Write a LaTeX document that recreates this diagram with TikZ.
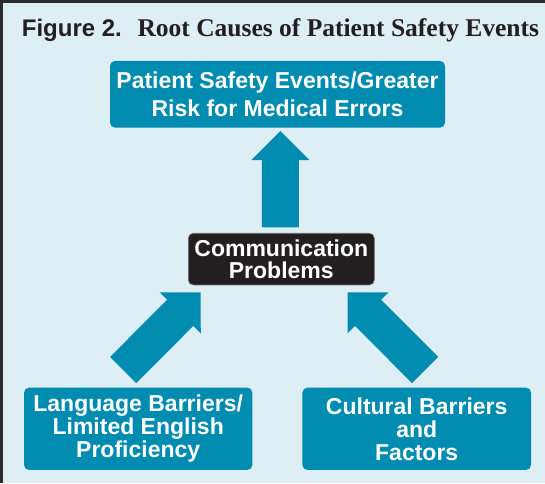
\documentclass[tikz,border=0pt]{standalone}
\usepackage{fontspec}
\setmainfont{Liberation Serif}
\setsansfont{Liberation Sans}
\usetikzlibrary{calc}
\definecolor{bgblue}{HTML}{DDEEF5}
\definecolor{boxblue}{HTML}{008BB0}
\definecolor{darkbox}{HTML}{231F20}
\definecolor{framegray}{HTML}{2B2B2B}
\definecolor{titleink}{HTML}{231F20}
\newcommand\headw{29pt}
\newcommand\headl{29pt}
\newcommand\shaftw{18.5pt}
% #1 tail coordinate, #2 tip coordinate
\newcommand\drawfatarrow[2]{%
  \coordinate (fa-neck) at ($(#2)!\headl!(#1)$);
  \fill[boxblue] ($(#1)!\shaftw!90:(#2)$) -- ($(fa-neck)!\shaftw!-90:(#1)$)
    -- ($(fa-neck)!\headw!-90:(#1)$) -- (#2) -- ($(fa-neck)!\headw!90:(#1)$)
    -- ($(fa-neck)!\shaftw!90:(#1)$) -- ($(#1)!\shaftw!-90:(#2)$) -- cycle;}
\begin{document}
\begin{tikzpicture}[x=1pt,y=1pt,
  bluebox/.style={fill=boxblue, rounded corners=5pt, text=white, align=center, inner sep=0pt},
  blackbox/.style={fill=darkbox, draw=black!55, line width=0.6pt, rounded corners=5pt, text=white, align=center, inner sep=0pt},
  boxfont/.style={font=\sffamily\bfseries\fontsize{23}{#1}\selectfont}]
% frame and background
\fill[framegray] (0,0) rectangle (545,483);
\fill[bgblue] (3,0) rectangle (545,480.3);
% title
\node[anchor=base west, inner sep=0pt, text=titleink, font=\sffamily\bfseries\fontsize{24}{28}\selectfont] (fig) at (21.7,446.3) {Figure 2.};
\node[anchor=base west, inner sep=0pt, text=titleink, font=\rmfamily\bfseries\fontsize{25.5}{30}\selectfont] (title) at (137.3,446.3) {Root Causes of Patient Safety Events};
% boxes
\node[bluebox, boxfont=27.4, minimum width=335pt, minimum height=66.7pt] (effect) at (277.5,388.7) {Patient Safety Events/Greater\\Risk for Medical Errors};
\node[blackbox, boxfont=22, minimum width=186pt, minimum height=51.7pt] (comm) at (281.3,223.9) {Communication\\Problems};
\node[bluebox, boxfont=23, minimum width=228.3pt, minimum height=82.3pt] (lang) at (138.2,54.2) {Language Barriers/\\Limited English\\Proficiency};
\node[bluebox, boxfont=23, minimum width=228.6pt, minimum height=82.3pt] (cult) at (416.7,54.2) {Cultural Barriers\\and\\Factors};
% arrow ends
\coordinate (upTail) at (280.3,255.7);
\coordinate (upTip) at (280.3,352);
\coordinate (lTail) at (123.2,113);
\coordinate (lTip) at (200.7,190.7);
\coordinate (rTail) at (425.1,113);
\coordinate (rTip) at (347.6,190.7);
\drawfatarrow{upTail}{upTip}
\drawfatarrow{lTail}{lTip}
\drawfatarrow{rTail}{rTip}
\end{tikzpicture}
\end{document}
